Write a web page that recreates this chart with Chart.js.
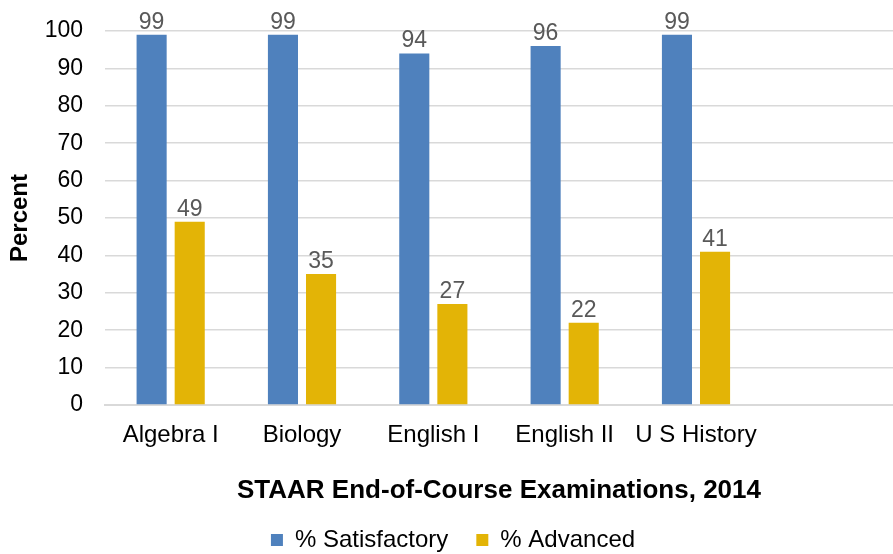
<!DOCTYPE html>
<html lang="en">
<head>
    <meta charset="UTF-8">
    <title>STAAR End-of-Course Examinations, 2014</title>
    <script src="https://cdn.jsdelivr.net/npm/chart.js"></script>
    <style>
        html, body { margin: 0; padding: 0; background: #fff; }
        #wrap { width: 893px; height: 554px; }
    </style>
</head>
<body>
    <div id="wrap"><canvas id="staarChart"></canvas></div>

    <script>
        // categories (last one is an empty slot, as in the original)
        const courses = ['Algebra I', 'Biology', 'English I', 'English II', 'U S History', ''];
        const satisfactory = [99, 99, 94, 96, 99, null];
        const advanced = [49, 35, 27, 22, 41, null];
        const yTicks = [0, 10, 20, 30, 40, 50, 60, 70, 80, 90, 100];

        const font = 'Liberation Sans, Arial, sans-serif';

        // draws the value above each bar
        const valueLabels = {
            id: 'valueLabels',
            afterDatasetsDraw(chart) {
                const ctx = chart.ctx;
                ctx.save();
                ctx.font = '23px ' + font;
                ctx.fillStyle = '#595959';
                ctx.textAlign = 'center';
                ctx.textBaseline = 'alphabetic';
                chart.data.datasets.forEach((ds, i) => {
                    chart.getDatasetMeta(i).data.forEach((bar, j) => {
                        if (ds.data[j] == null) return;
                        ctx.fillText(ds.data[j], bar.x, bar.y - 6);
                    });
                });
                ctx.restore();
            }
        };

        const ctx = document.getElementById('staarChart').getContext('2d');
        new Chart(ctx, {
            type: 'bar',
            data: {
                labels: courses,
                datasets: [{
                    label: '% Satisfactory',
                    data: satisfactory,
                    backgroundColor: '#4f81bd',
                    categoryPercentage: 0.58,
                    barPercentage: 0.79
                }, {
                    label: '% Advanced',
                    data: advanced,
                    backgroundColor: '#e3b406',
                    categoryPercentage: 0.58,
                    barPercentage: 0.79
                }]
            },
            options: {
                responsive: true,
                maintainAspectRatio: false,
                animation: false,
                layout: { padding: { top: 31, right: 0, left: 13, bottom: -8 } },
                scales: {
                    x: {
                        afterFit(axis) { axis.paddingLeft = 0; axis.paddingRight = 0; },
                        grid: { display: false, drawTicks: false },
                        border: { color: '#d9d9d9', width: 2 },
                        ticks: { color: '#000', font: { family: font, size: 24 }, padding: 16, maxRotation: 0 },
                        title: {
                            display: true,
                            text: 'STAAR End-of-Course Examinations, 2014',
                            color: '#000',
                            font: { family: font, size: 26, weight: 'bold' },
                            padding: { top: 9, bottom: -6 }
                        }
                    },
                    y: {
                        min: 0,
                        max: 100,
                        afterBuildTicks(axis) { axis.ticks = yTicks.map(v => ({ value: v })); },
                        // keep the plot's left edge at 105px like the original
                        afterFit(axis) { axis.width = 92; axis.paddingTop = 0; axis.paddingBottom = 0; },
                        grid: { color: '#d9d9d9', lineWidth: 1.5, drawTicks: false },
                        border: { display: false },
                        ticks: { color: '#000', font: { family: font, size: 23 }, padding: 22 },
                        title: {
                            display: true,
                            text: 'Percent',
                            color: '#000',
                            font: { family: font, size: 24, weight: 'bold' },
                            padding: { top: -7, bottom: 0 }
                        }
                    }
                },
                plugins: {
                    legend: {
                        position: 'bottom',
                        labels: {
                            color: '#000',
                            font: { family: font, size: 24 },
                            boxWidth: 12,
                            boxHeight: 12,
                            padding: 28
                        }
                    },
                    tooltip: { enabled: false }
                }
            },
            plugins: [valueLabels]
        });
    </script>
</body>
</html>
